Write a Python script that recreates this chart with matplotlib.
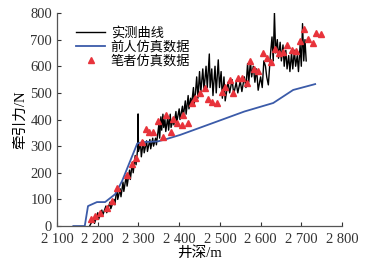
import matplotlib
matplotlib.use("Agg")
import matplotlib.pyplot as plt

plt.rcParams['font.family'] = ['Liberation Serif', 'Noto Sans CJK SC']

# measured curve (depth m, force N)
meas_x = [2180, 2190, 2192, 2200, 2202, 2210, 2212, 2220, 2222, 2230, 2232, 2240, 2242,
          2247, 2249, 2255, 2257, 2262, 2264, 2270, 2272, 2278, 2280, 2285, 2287, 2292, 2294,
          2298, 2299, 2300, 2305, 2307, 2312, 2314, 2320, 2322, 2328, 2330, 2335, 2337, 2342, 2344,
          2350, 2352, 2355, 2357, 2360, 2362, 2365, 2367, 2372, 2374, 2378, 2380, 2385, 2387,
          2392, 2394, 2400, 2402, 2408, 2410, 2415, 2417, 2422, 2424, 2428, 2430, 2435, 2437,
          2440, 2443, 2446, 2450, 2453, 2458, 2461, 2466, 2469, 2474, 2476, 2480, 2483, 2488,
          2491, 2496, 2499, 2503, 2506, 2510, 2513, 2520, 2524, 2530, 2534, 2540, 2544, 2550,
          2554, 2560, 2564, 2568, 2571, 2575, 2578, 2582, 2586, 2590, 2594, 2600, 2604, 2608,
          2612, 2615, 2619, 2624, 2628, 2631, 2634, 2637, 2641, 2644, 2648, 2651, 2655, 2658,
          2662, 2665, 2669, 2672, 2676, 2679, 2683, 2686, 2690, 2693, 2697, 2700, 2703, 2706,
          2709, 2712]
meas_y = [0, 30, 10, 50, 25, 60, 40, 75, 50, 90, 65, 100, 80,
          145, 100, 140, 110, 165, 130, 190, 150, 210, 175, 240, 200, 265, 230,
          290, 421, 280, 310, 260, 320, 275, 320, 280, 325, 290, 330, 300, 330, 305,
          380, 330, 410, 360, 420, 370, 400, 355, 410, 360, 420, 370, 400, 380,
          430, 390, 440, 400, 450, 410, 470, 420, 490, 440, 480, 450, 520, 460,
          500, 560, 480, 580, 500, 590, 510, 600, 520, 646, 520, 590, 490, 600,
          500, 624, 520, 580, 480, 560, 470, 540, 500, 550, 495, 540, 500, 545,
          505, 560, 520, 610, 540, 620, 560, 600, 540, 590, 510, 560, 520, 620,
          600, 560, 530, 640, 710, 620, 800, 650, 700, 630, 690, 620, 680, 600,
          660, 590, 640, 580, 650, 590, 660, 600, 640, 580, 680, 600, 760, 620,
          700, 620]

# previous simulation
prev_x = [2140, 2168, 2176, 2198, 2218, 2243, 2260, 2297, 2310, 2348, 2365, 2402, 2483,
          2560, 2631, 2680, 2734]
prev_y = [0, 0, 75, 90, 90, 120, 170, 310, 315, 318, 325, 342, 387, 430, 462, 511, 533]

# author simulation
sim_x = [2184, 2193, 2206, 2223, 2235, 2247, 2272, 2284, 2294, 2309, 2319, 2326, 2336,
         2348, 2360, 2368, 2380, 2385, 2395, 2407, 2410, 2422, 2431, 2439, 2452, 2464,
         2472, 2481, 2493, 2505, 2513, 2525, 2532, 2545, 2554, 2567, 2574, 2584, 2594,
         2606, 2616, 2626, 2636, 2645, 2655, 2665, 2677, 2687, 2697, 2707, 2717, 2729,
         2736, 2749]
sim_y = [26, 38, 49, 68, 94, 143, 192, 233, 255, 316, 364, 354, 352,
         394, 336, 417, 352, 403, 387, 380, 417, 387, 462, 481, 500, 519,
         477, 466, 462, 504, 523, 549, 500, 556, 556, 537, 620, 590, 583,
         650, 631, 616, 665, 650, 654, 680, 662, 658, 695, 740, 703, 688,
         726, 722]

xticks = [2100, 2200, 2300, 2400, 2500, 2600, 2700, 2800]
xtick_labels = ['2 100', '2 200', '2 300', '2 400', '2 500', '2 600', '2 700', '2 800']
yticks = [0, 100, 200, 300, 400, 500, 600, 700, 800]

fig = plt.figure(figsize=(3.83, 2.65), dpi=100)
ax = fig.add_axes([0.149, 0.147, 0.744, 0.804])

ax.plot(meas_x, meas_y, color='black', lw=1.0, label='实测曲线')
ax.plot(prev_x, prev_y, color='#3b5ba9', lw=1.3, label='前人仿真数据')
ax.plot(sim_x, sim_y, ls='none', marker='^', ms=5, color='#e8333b', label='笔者仿真数据')

ax.set_xlim(2100, 2800)
ax.set_ylim(0, 800)
ax.set_xticks(xticks)
ax.set_xticklabels(xtick_labels)
ax.set_yticks(yticks)
ax.tick_params(direction='in', labelsize=10.5, length=3, width=0.8, colors='#333333')
ax.tick_params(axis='x', pad=5)
for s in ['top', 'right']:
    ax.spines[s].set_visible(False)
for s in ['left', 'bottom']:
    ax.spines[s].set_color('#555555')
    ax.spines[s].set_linewidth(0.9)

ax.set_xlabel('井深/m', fontsize=10.5, labelpad=0)
ax.set_ylabel('牵引力/N', fontsize=10.5, labelpad=2)

ax.legend(loc='upper left', bbox_to_anchor=(0.035, 0.98), frameon=False, fontsize=9.5,
          handlelength=2.2, handletextpad=0.4, labelspacing=0.1, borderpad=0.2)

fig.savefig('out.png', dpi=100)
